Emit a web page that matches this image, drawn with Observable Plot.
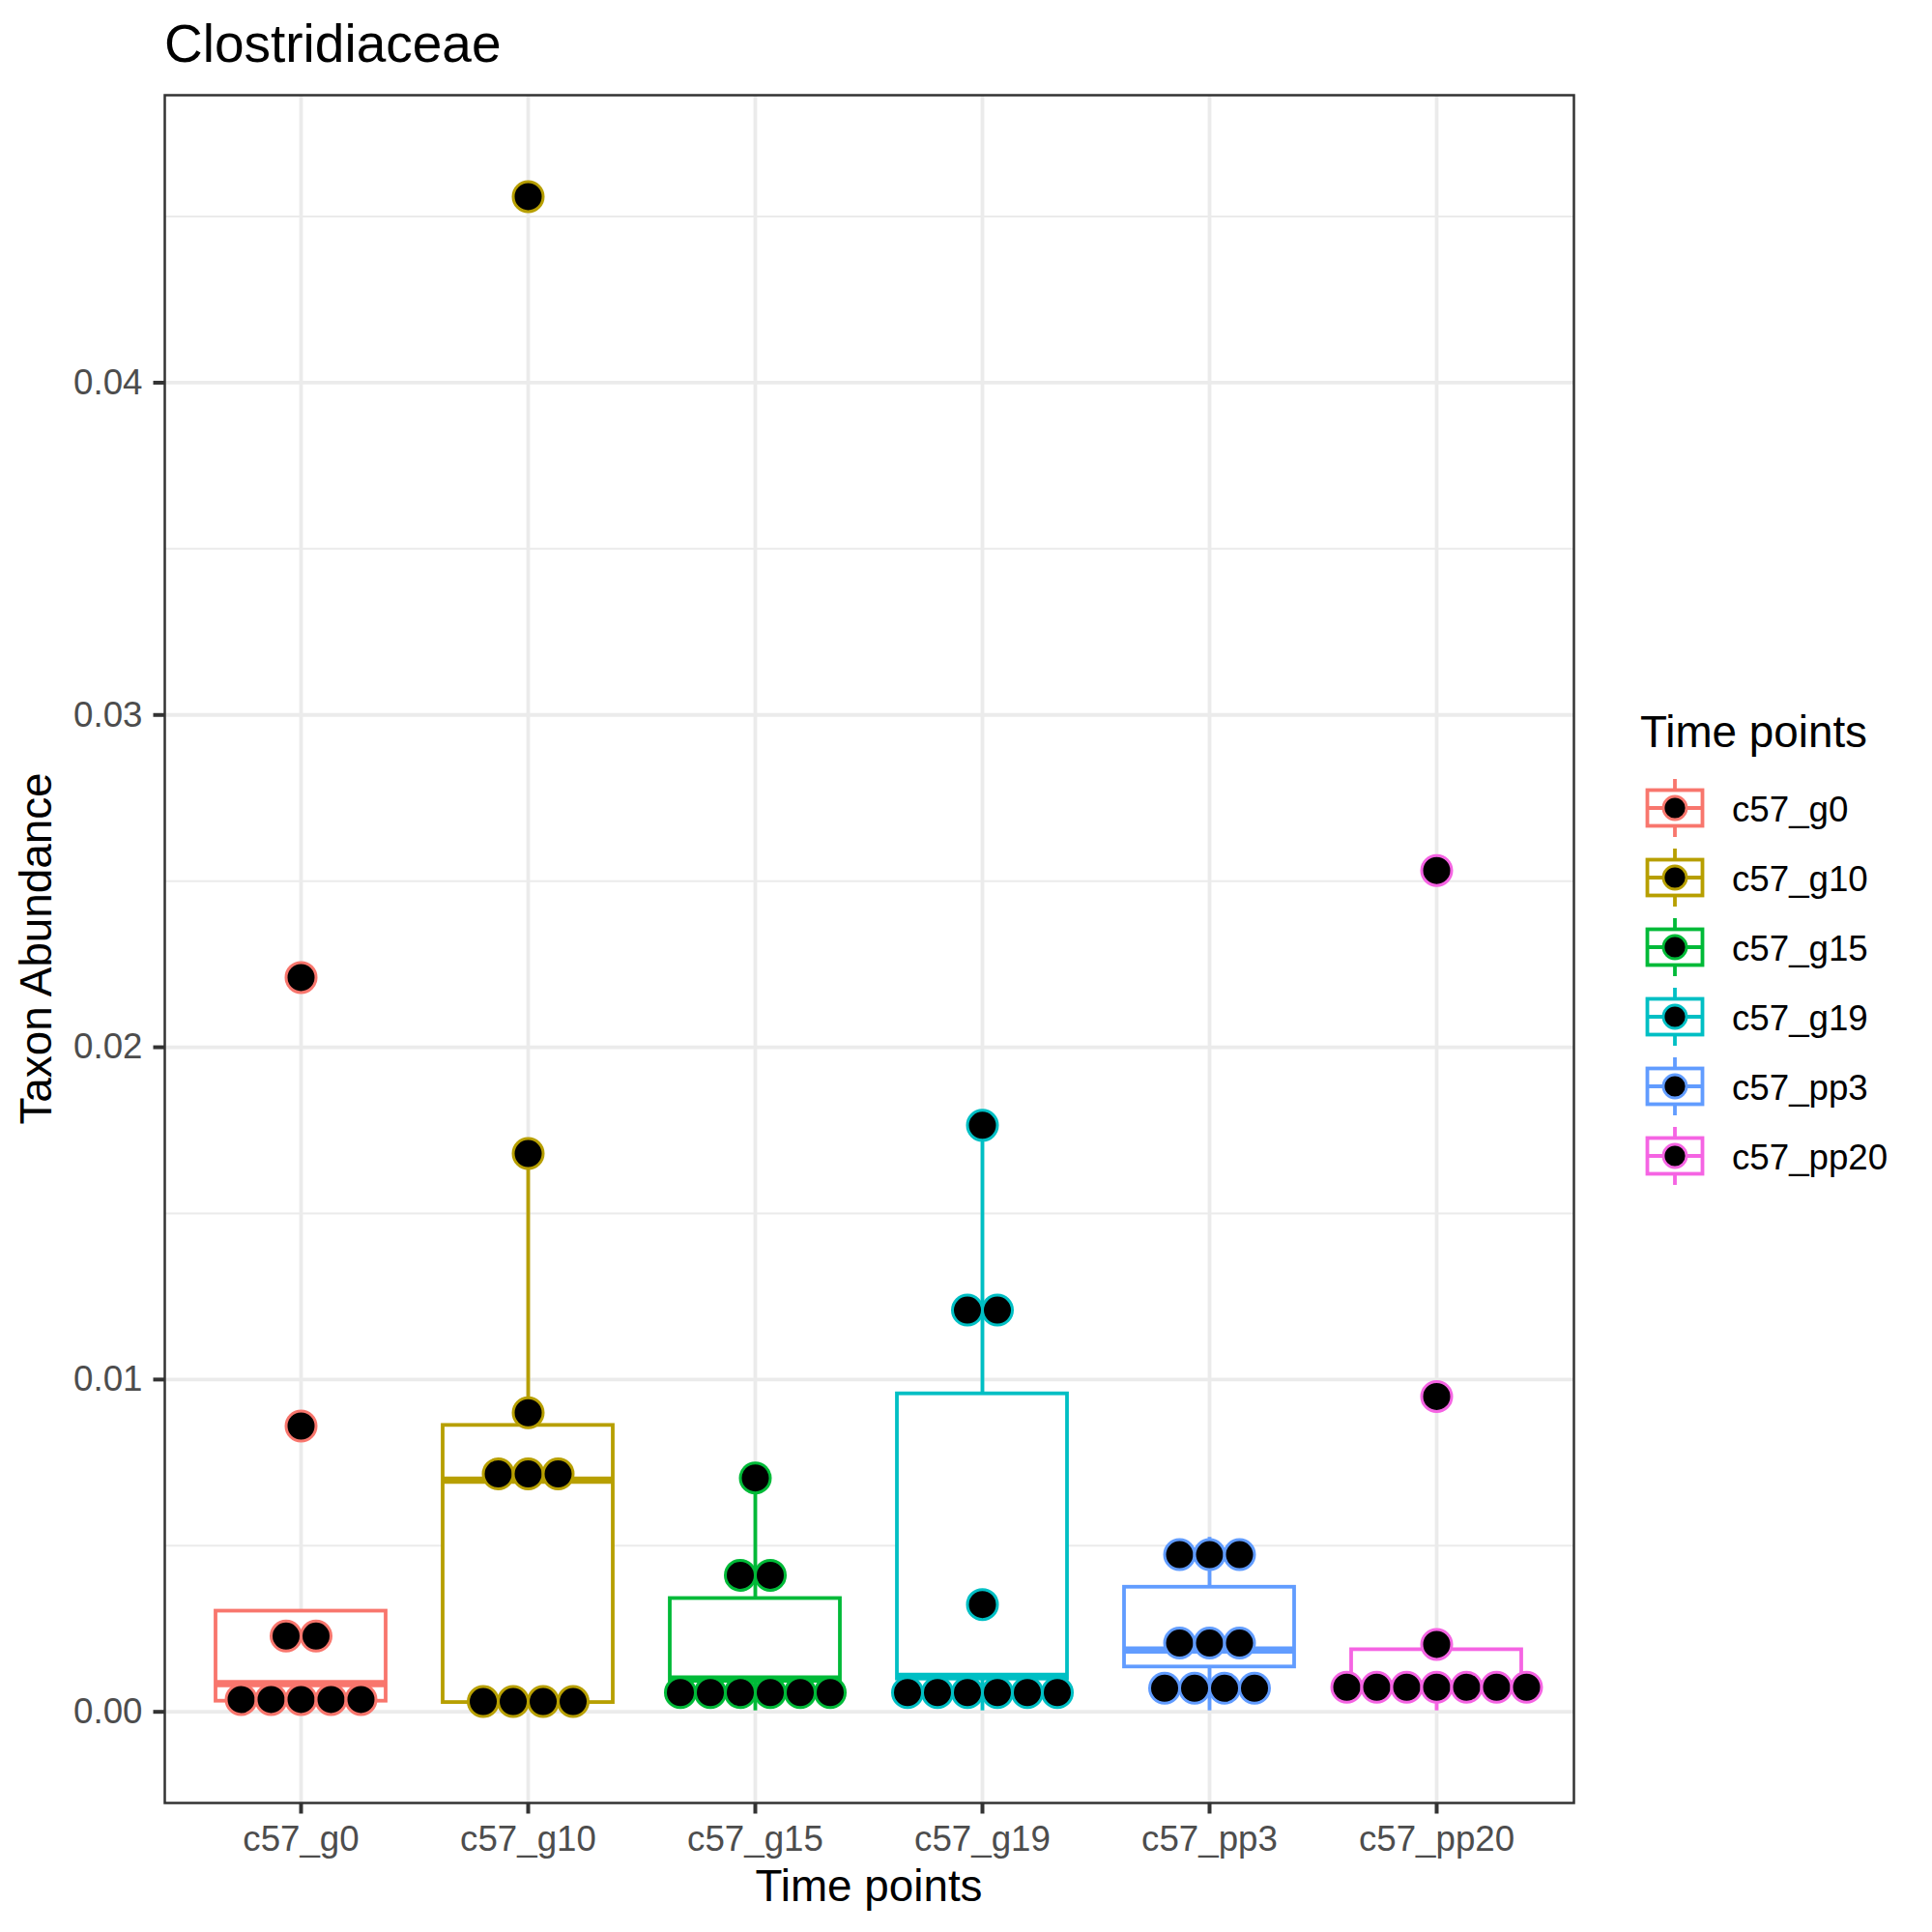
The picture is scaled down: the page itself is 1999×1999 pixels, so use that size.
<!DOCTYPE html>
<html>
<head>
<meta charset="utf-8">
<script src="https://cdn.jsdelivr.net/npm/d3@7"></script>
<script src="https://cdn.jsdelivr.net/npm/@observablehq/plot@0.6"></script>
<style>
  body { margin: 0; background: #ffffff; }
  #chart { width: 1999px; height: 1999px; }
</style>
</head>
<body>
<div id="chart"></div>
<script>
// ---- Data ----
const categories = ["c57_g0", "c57_g10", "c57_g15", "c57_g19", "c57_pp3", "c57_pp20"];
const colors = ["#F8766D", "#B79F00", "#00BA38", "#00BFC4", "#619CFF", "#F564E3"];

// dot (binned sample) values per time point
const dots_c57_g0   = [0.00037, 0.00037, 0.00037, 0.00037, 0.00037, 0.00228, 0.00228, 0.0086, 0.0221];
const dots_c57_g10  = [0.00031, 0.00031, 0.00031, 0.00031, 0.00716, 0.00716, 0.00716, 0.0090, 0.0168, 0.0456];
const dots_c57_g15  = [0.00058, 0.00058, 0.00058, 0.00058, 0.00058, 0.00058, 0.00411, 0.00411, 0.00704];
const dots_c57_g19  = [0.00058, 0.00058, 0.00058, 0.00058, 0.00058, 0.00058, 0.00323, 0.01209, 0.01209, 0.01765];
const dots_c57_pp3  = [0.00071, 0.00071, 0.00071, 0.00071, 0.00207, 0.00207, 0.00207, 0.00473, 0.00473, 0.00473];
const dots_c57_pp20 = [0.00074, 0.00074, 0.00074, 0.00074, 0.00074, 0.00074, 0.00074, 0.00203, 0.00949, 0.02532];

// box statistics per time point
const q1          = [0.00032, 0.00028, 0.00093, 0.00099, 0.00135, 0.00072];
const median      = [0.00085, 0.00697, 0.00099, 0.00107, 0.00186, 0.00074];
const q3          = [0.00303, 0.00862, 0.00341, 0.00957, 0.00375, 0.00187];
const whiskerLow  = [0.00032, 0.00028, 0.00003, 0.00003, 0.00003, 0.00003];
const whiskerHigh = [0.00303, 0.01680, 0.00704, 0.01765, 0.00525, 0.00187];

const yTicks = [0, 0.01, 0.02, 0.03, 0.04];
const yMinorTicks = [0.005, 0.015, 0.025, 0.035, 0.045];

const titleText = "Clostridiaceae";
const xTitle = "Time points";
const yTitle = "Taxon Abundance";
const legendTitle = "Time points";

// ---- Build tables ----
const dotValues = [dots_c57_g0, dots_c57_g10, dots_c57_g15, dots_c57_g19, dots_c57_pp3, dots_c57_pp20];
const stats = categories.map((c, i) => ({cat: c, q1: q1[i], med: median[i], q3: q3[i], lo: whiskerLow[i], hi: whiskerHigh[i]}));
const dots = [];
categories.forEach((c, i) => {
  const groups = d3.group(dotValues[i], v => v);
  for (const [v, arr] of groups) {
    const n = arr.length;
    arr.forEach((_, j) => dots.push({cat: c, value: v, slot: j - (n - 1) / 2}));
  }
});
const slots = Array.from(new Set(dots.map(d => d.slot))).sort((a, b) => a - b);
const DOT_STEP = 31;
const FONT = "'Liberation Sans', Arial, Helvetica, sans-serif";
const LW = 3.8;

const plot = Plot.plot({
  width: 1999,
  height: 1999,
  marginLeft: 170,
  marginRight: 371,
  marginTop: 98,
  marginBottom: 134,
  style: {fontFamily: FONT, background: "white", color: "black"},
  x: {type: "band", domain: categories, paddingInner: 0.25, paddingOuter: 0.225, align: 0.5, label: null},
  y: {domain: [-0.002743, 0.048652], label: null},
  color: {domain: categories, range: colors},
  marks: [
    Plot.gridY({ticks: yMinorTicks, stroke: "#EBEBEB", strokeOpacity: 1, strokeWidth: 2}),
    Plot.gridY({ticks: yTicks, stroke: "#EBEBEB", strokeOpacity: 1, strokeWidth: 3.8}),
    Plot.gridX({stroke: "#EBEBEB", strokeOpacity: 1, strokeWidth: 3.8}),
    Plot.ruleX(stats, {x: "cat", y1: "q3", y2: "hi", stroke: "cat", strokeWidth: LW}),
    Plot.ruleX(stats, {x: "cat", y1: "lo", y2: "q1", stroke: "cat", strokeWidth: LW}),
    Plot.barY(stats, {x: "cat", y1: "q1", y2: "q3", fill: "white", stroke: "cat", strokeWidth: LW}),
    Plot.tickY(stats, {x: "cat", y: "med", stroke: "cat", strokeWidth: 7.5}),
    ...slots.map(s => Plot.dot(dots.filter(d => d.slot === s), {
      x: "cat", y: "value", r: 15.5, fill: "black", stroke: "cat", strokeWidth: 3, dx: s * DOT_STEP
    })),
    Plot.frame({stroke: "#333333", strokeWidth: 2.5}),
    Plot.axisY({ticks: yTicks, tickFormat: d3.format(".2f"), tickSize: 11.5, tickPadding: 11.5,
      fontSize: 36.7, fill: "#4D4D4D", stroke: "#333333", strokeWidth: 4, label: null}),
    Plot.axisX({tickSize: 11.5, tickPadding: 11.5, fontSize: 36.7, fill: "#4D4D4D",
      stroke: "#333333", strokeWidth: 4, label: null})
  ]
});

document.getElementById("chart").appendChild(plot);

// ---- Titles and legend ----
const svg = d3.select(plot);
svg.append("text").attr("x", 170).attr("y", 63.5).attr("text-anchor", "start")
  .attr("font-family", FONT).attr("font-size", 55).attr("fill", "black").text(titleText);
svg.append("text").attr("x", 899).attr("y", 1966.7).attr("text-anchor", "middle")
  .attr("font-family", FONT).attr("font-size", 45.8).attr("fill", "black").text(xTitle);
svg.append("text").attr("transform", "translate(53,981.5) rotate(-90)").attr("text-anchor", "middle")
  .attr("font-family", FONT).attr("font-size", 45.8).attr("fill", "black").text(yTitle);

const legend = svg.append("g").attr("font-family", FONT).attr("text-anchor", "start");
legend.append("text").attr("x", 1697).attr("y", 772.7).attr("text-anchor", "start")
  .attr("font-size", 45.8).attr("fill", "black").text(legendTitle);
categories.forEach((c, i) => {
  const cy = 836 + i * 72;
  const cx = 1733;
  const col = colors[i];
  const g = legend.append("g");
  g.append("line").attr("x1", cx).attr("x2", cx).attr("y1", cy - 30).attr("y2", cy + 30)
    .attr("stroke", col).attr("stroke-width", LW);
  g.append("rect").attr("x", cx - 28.5).attr("y", cy - 18.5).attr("width", 57).attr("height", 37)
    .attr("fill", "white").attr("stroke", col).attr("stroke-width", LW);
  g.append("line").attr("x1", cx - 28.5).attr("x2", cx + 28.5).attr("y1", cy).attr("y2", cy)
    .attr("stroke", col).attr("stroke-width", LW);
  g.append("circle").attr("cx", cx).attr("cy", cy).attr("r", 12)
    .attr("fill", "black").attr("stroke", col).attr("stroke-width", 2.8);
  g.append("text").attr("x", 1792).attr("y", cy + 13.5).attr("text-anchor", "start")
    .attr("font-size", 36.7).attr("fill", "black").text(c);
});
</script>
</body>
</html>
